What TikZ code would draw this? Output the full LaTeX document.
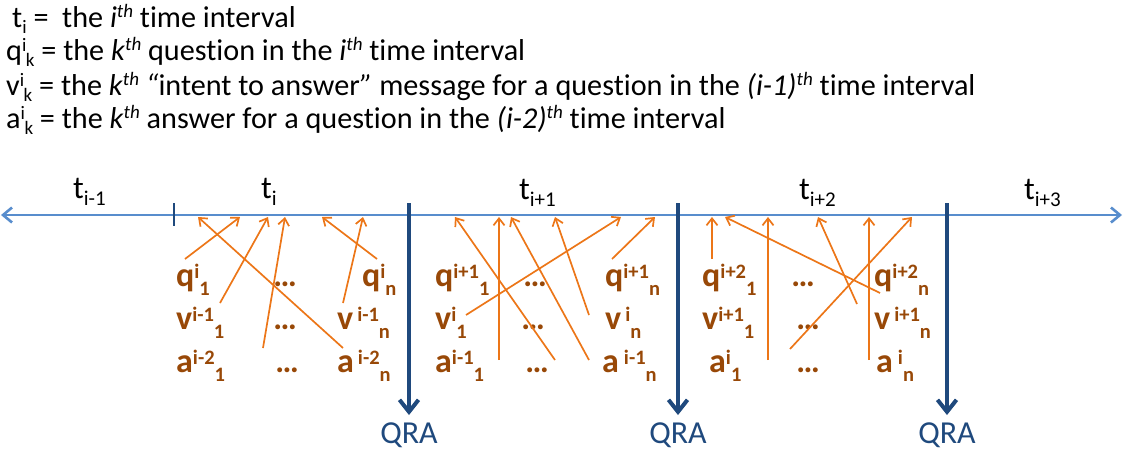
\documentclass[tikz,border=0pt]{standalone}
\usepackage{fontspec}
\setmainfont{Carlito}[Ligatures=NoCommon]
\usetikzlibrary{arrows.meta}
\definecolor{tlblue}{RGB}{88,141,205}
\definecolor{dkblue}{RGB}{31,73,125}
\definecolor{arrorange}{RGB}{236,118,24}
\definecolor{lblbrown}{RGB}{152,72,7}
\newcommand\ssz{\fontsize{19}{19}\selectfont}
\newcommand\lsz{\fontsize{20.5}{20.5}\selectfont}
% legend super/sub
\newcommand\lgss[2]{\raisebox{9pt}{\ssz #1}\kern-0.5pt\raisebox{-6pt}{\ssz #2}}
\newcommand\lgsp[1]{\raisebox{10pt}{\ssz\itshape #1}}
\newcommand\lgsb[1]{\raisebox{-6pt}{\ssz #1}}
% diagram labels
\newcommand\lbl[3]{#1\raisebox{8pt}{\lsz #2}\raisebox{-9pt}{\lsz #3}}
\newcommand\tlab[2]{#1\raisebox{-7pt}{\fontsize{21}{21}\selectfont #2}}
\begin{document}
\begin{tikzpicture}[x=1pt,y=-1pt,
  legend/.style={anchor=base west,inner sep=0pt,font=\fontsize{30.2}{30.2}\selectfont},
  tlabel/.style={anchor=base west,inner sep=0pt,font=\fontsize{32}{32}\selectfont},
  msg/.style={anchor=base west,inner sep=0pt,text=lblbrown,font=\fontsize{34}{34}\selectfont\bfseries},
  dots/.style={anchor=base,inner sep=0pt,text=lblbrown,font=\fontsize{33}{33}\selectfont\bfseries},
  qratext/.style={anchor=base,inner sep=0pt,text=dkblue,font=\fontsize{32}{32}\selectfont},
  timeline/.style={draw=tlblue,line width=2.6pt,{Straight Barb[length=9pt,width=15pt]}-{Straight Barb[length=9pt,width=15pt]}},
  tickmark/.style={draw=dkblue,line width=1.8pt},
  qraarrow/.style={draw=dkblue,line width=4pt,-{Straight Barb[length=12pt,width=19pt]},shorten >=7pt},
  msgarrow/.style={draw=arrorange,line width=1.7pt,-{Straight Barb[length=7pt,width=11pt]}}
]
\useasboundingbox (0,0) rectangle (1123,450);

% legend
\node[legend] (l1) at (12,27) {t\lgsb{i} =\ \ the \textit{i}\lgsp{th} time interval};
\node[legend] (l2) at (6,60) {q\lgss{i}{k} = the \textit{k}\lgsp{th} question in the \textit{i}\lgsp{th} time interval};
\node[legend] (l3) at (6,95) {v\lgss{i}{k} = the \textit{k}\lgsp{th} \textit{“}intent to answer\textit{”} message for a question in the \textit{(i-1)}\lgsp{th} time interval};
\node[legend] (l4) at (6,128) {a\lgss{i}{k} = the \textit{k}\lgsp{th} answer for a question in the \textit{(i-2)}\lgsp{th} time interval};

% time line
\coordinate (tlL) at (1,215);
\coordinate (tlR) at (1122,215);
\draw[timeline] (tlL) -- (tlR);
\coordinate (tk1) at (174,203);
\coordinate (tk2) at (174,226);
\draw[tickmark] (tk1) -- (tk2);

% interval labels
\node[tlabel] (t0) at (73,198) {\tlab{t}{i-1}};
\node[tlabel] (t1) at (261,198) {\tlab{t}{i}};
\node[tlabel] (t2) at (519,199) {\tlab{t}{i+1}};
\node[tlabel] (t3) at (799,199) {\tlab{t}{i+2}};
\node[tlabel] (t4) at (1024,199) {\tlab{t}{i+3}};

% QRA
\node[qratext] (qra1) at (409,443) {QRA};
\node[qratext] (qra2) at (678,443) {QRA};
\node[qratext] (qra3) at (947,443) {QRA};
\coordinate (d1) at (409,203);
\coordinate (d2) at (678,203);
\coordinate (d3) at (947,203);
\draw[qraarrow] (d1) -- (qra1.north);
\draw[qraarrow] (d2) -- (qra2.north);
\draw[qraarrow] (d3) -- (qra3.north);

% interval i messages
\node[msg] (q1a) at (176,286) {\lbl{q}{i}{1}};
\node[dots] (e1a) at (285,286) {…};
\node[msg] (qna) at (362,286) {\lbl{q}{i}{n}};
\node[msg] (v1a) at (176,329) {\lbl{v}{i-1}{1}};
\node[dots] (e2a) at (285,329) {…};
\node[msg] (vna) at (337,329) {\lbl{v\kern4pt}{i-1}{n}};
\node[msg] (a1a) at (176,372) {\lbl{a}{i-2}{1}};
\node[dots] (e3a) at (287,372) {…};
\node[msg] (ana) at (337,372) {\lbl{a\kern4pt}{i-2}{n}};

% interval i+1 messages
\node[msg] (q1b) at (435,286) {\lbl{q}{i+1}{1}};
\node[dots] (e1b) at (535,286) {…};
\node[msg] (qnb) at (605,286) {\lbl{q}{i+1}{n}};
\node[msg] (v1b) at (435,329) {\lbl{v}{i}{1}};
\node[dots] (e2b) at (533,329) {…};
\node[msg] (vnb) at (605,329) {\lbl{v\kern4pt}{i}{n}};
\node[msg] (a1b) at (435,372) {\lbl{a}{i-1}{1}};
\node[dots] (e3b) at (537,372) {…};
\node[msg] (anb) at (602,372) {\lbl{a\kern5pt}{i-1}{n}};

% interval i+2 messages
\node[msg] (q1c) at (702,286) {\lbl{q}{i+2}{1}};
\node[dots] (e1c) at (803,286) {…};
\node[msg] (qnc) at (874,286) {\lbl{q}{i+2}{n}};
\node[msg] (v1c) at (702,329) {\lbl{v}{i+1}{1}};
\node[dots] (e2c) at (808,329) {…};
\node[msg] (vnc) at (874,329) {\lbl{v\kern4pt}{i+1}{n}};
\node[msg] (a1c) at (709,372) {\lbl{a}{i}{1}};
\node[dots] (e3c) at (808,372) {…};
\node[msg] (anc) at (876,372) {\lbl{a\kern5pt}{i}{n}};

% message arrows, interval i
\coordinate (sa1) at (185,259); \coordinate (ea1) at (240,217);
\coordinate (sa2) at (343,348); \coordinate (ea2) at (198,217);
\coordinate (sa3) at (220,303); \coordinate (ea3) at (268,217);
\coordinate (sa4) at (263,348); \coordinate (ea4) at (285,217);
\coordinate (sa5) at (377,259); \coordinate (ea5) at (322,217);
\coordinate (sa6) at (343,303); \coordinate (ea6) at (363,217);
\foreach \k in {1,...,6} \draw[msgarrow] (sa\k) -- (ea\k);

% interval i+1
\coordinate (sb1) at (555,360); \coordinate (eb1) at (455,217);
\coordinate (sb2) at (499,360); \coordinate (eb2) at (499,217);
\coordinate (sb3) at (589,360); \coordinate (eb3) at (511,217);
\coordinate (sb4) at (589,315); \coordinate (eb4) at (555,217);
\coordinate (sb5) at (466,315); \coordinate (eb5) at (621,217);
\coordinate (sb6) at (612,259); \coordinate (eb6) at (655,217);
\foreach \k in {1,...,6} \draw[msgarrow] (sb\k) -- (eb\k);

% interval i+2
\coordinate (sc1) at (712,259); \coordinate (ec1) at (712,217);
\coordinate (sc2) at (880,293); \coordinate (ec2) at (725,217);
\coordinate (sc3) at (768,360); \coordinate (ec3) at (768,217);
\coordinate (sc4) at (857,304); \coordinate (ec4) at (818,217);
\coordinate (sc5) at (869,360); \coordinate (ec5) at (869,217);
\coordinate (sc6) at (790,349); \coordinate (ec6) at (912,217);
\foreach \k in {1,...,6} \draw[msgarrow] (sc\k) -- (ec\k);
\end{tikzpicture}
\end{document}
